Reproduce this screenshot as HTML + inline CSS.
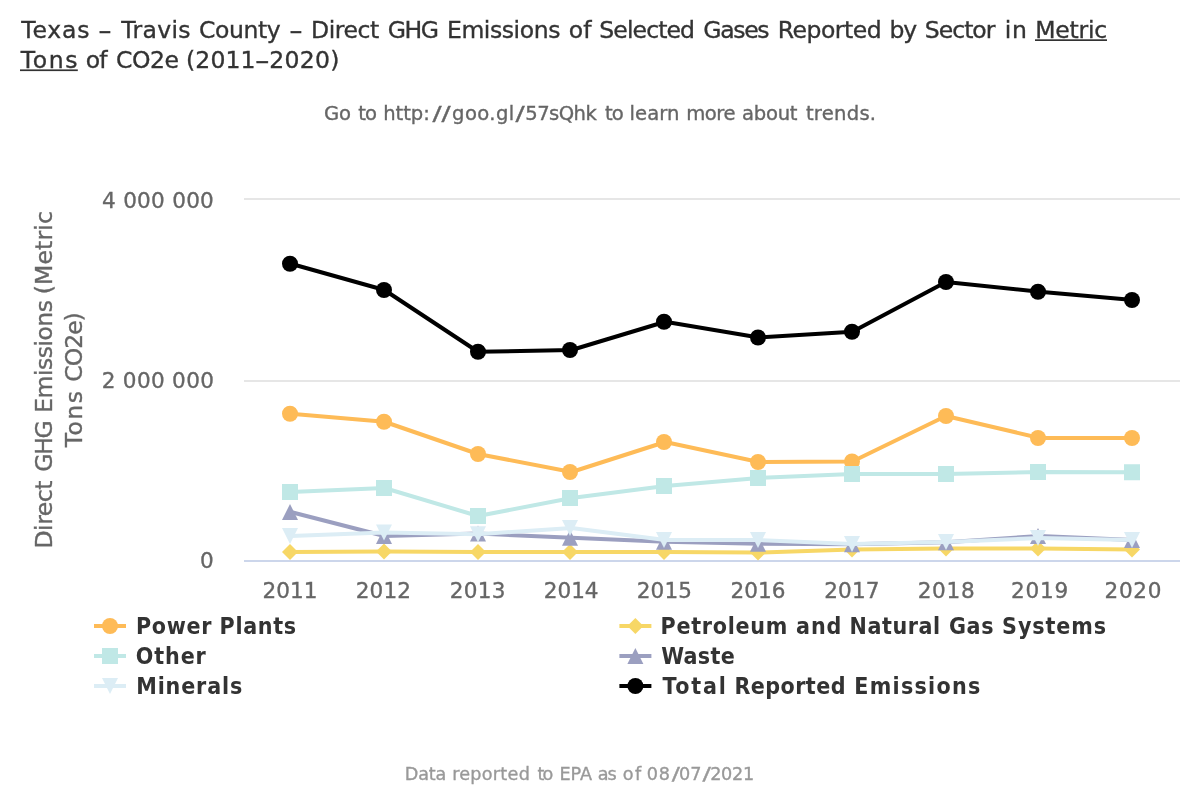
<!DOCTYPE html>
<html lang="en"><head><meta charset="utf-8"><title>Direct GHG Emissions - Travis County, Texas</title>
<style>
html,body{margin:0;padding:0;background:#ffffff;}
body{width:1200px;height:800px;overflow:hidden;}
svg{display:block;font-family:'DejaVu Sans','Liberation Sans',sans-serif;}
svg text{white-space:pre;}
</style></head><body>
<svg width="1200" height="800" viewBox="0 0 1200 800">
<rect width="1200" height="800" fill="#ffffff"/>
<g class="grid"><rect x="244" y="198" width="936" height="2" fill="#e6e6e6"/><rect x="244" y="380" width="936" height="2" fill="#e6e6e6"/></g>
<rect class="axis-line" x="244" y="560" width="936" height="2" fill="#ccd6eb"/>
<g class="series"><path d="M290.8 413.75L384.4 421.75L478 454L571.6 472L665.2 442L758.8 462L852.4 461.5L946 416L1039.6 438L1133.2 438" fill="none" stroke="#febb57" stroke-width="4" stroke-linejoin="round" stroke-linecap="round"/>
<circle cx="290" cy="413.75" r="8" fill="#febb57"/><circle cx="384" cy="421.75" r="8" fill="#febb57"/><circle cx="478" cy="454" r="8" fill="#febb57"/><circle cx="570" cy="472" r="8" fill="#febb57"/><circle cx="664" cy="442" r="8" fill="#febb57"/><circle cx="758" cy="462" r="8" fill="#febb57"/><circle cx="852" cy="461.5" r="8" fill="#febb57"/><circle cx="946" cy="416" r="8" fill="#febb57"/><circle cx="1038" cy="438" r="8" fill="#febb57"/><circle cx="1132" cy="438" r="8" fill="#febb57"/></g>
<g class="series"><path d="M290.8 552L384.4 551.6L478 552L571.6 552L665.2 552L758.8 552.5L852.4 549.5L946 548.5L1039.6 548.5L1133.2 549.6" fill="none" stroke="#f7d766" stroke-width="4" stroke-linejoin="round" stroke-linecap="round"/>
<path d="M290 544L298 552L290 560L282 552Z" fill="#f7d766"/><path d="M384 543.6L392 551.6L384 559.6L376 551.6Z" fill="#f7d766"/><path d="M478 544L486 552L478 560L470 552Z" fill="#f7d766"/><path d="M570 544L578 552L570 560L562 552Z" fill="#f7d766"/><path d="M664 544L672 552L664 560L656 552Z" fill="#f7d766"/><path d="M758 544.5L766 552.5L758 560.5L750 552.5Z" fill="#f7d766"/><path d="M852 541.5L860 549.5L852 557.5L844 549.5Z" fill="#f7d766"/><path d="M946 540.5L954 548.5L946 556.5L938 548.5Z" fill="#f7d766"/><path d="M1038 540.5L1046 548.5L1038 556.5L1030 548.5Z" fill="#f7d766"/><path d="M1132 541.6L1140 549.6L1132 557.6L1124 549.6Z" fill="#f7d766"/></g>
<g class="series"><path d="M290.8 492L384.4 488L478 516L571.6 498L665.2 486L758.8 478L852.4 474L946 474L1039.6 472L1133.2 472.25" fill="none" stroke="#c0e8e6" stroke-width="4" stroke-linejoin="round" stroke-linecap="round"/>
<rect x="282" y="484" width="16" height="16" fill="#c0e8e6"/><rect x="376" y="480" width="16" height="16" fill="#c0e8e6"/><rect x="470" y="508" width="16" height="16" fill="#c0e8e6"/><rect x="562" y="490" width="16" height="16" fill="#c0e8e6"/><rect x="656" y="478" width="16" height="16" fill="#c0e8e6"/><rect x="750" y="470" width="16" height="16" fill="#c0e8e6"/><rect x="844" y="466" width="16" height="16" fill="#c0e8e6"/><rect x="938" y="466" width="16" height="16" fill="#c0e8e6"/><rect x="1030" y="464" width="16" height="16" fill="#c0e8e6"/><rect x="1124" y="464.25" width="16" height="16" fill="#c0e8e6"/></g>
<g class="series"><path d="M290.8 512L384.4 536L478 533.6L571.6 537.7L665.2 541.7L758.8 543.7L852.4 544.3L946 542.3L1039.6 536L1133.2 540" fill="none" stroke="#9b9fc0" stroke-width="4" stroke-linejoin="round" stroke-linecap="round"/>
<path d="M290 504L298 520L282 520Z" fill="#9b9fc0"/><path d="M384 528L392 544L376 544Z" fill="#9b9fc0"/><path d="M478 525.6L486 541.6L470 541.6Z" fill="#9b9fc0"/><path d="M570 529.7L578 545.7L562 545.7Z" fill="#9b9fc0"/><path d="M664 533.7L672 549.7L656 549.7Z" fill="#9b9fc0"/><path d="M758 535.7L766 551.7L750 551.7Z" fill="#9b9fc0"/><path d="M852 536.3L860 552.3L844 552.3Z" fill="#9b9fc0"/><path d="M946 534.3L954 550.3L938 550.3Z" fill="#9b9fc0"/><path d="M1038 528L1046 544L1030 544Z" fill="#9b9fc0"/><path d="M1132 532L1140 548L1124 548Z" fill="#9b9fc0"/></g>
<g class="series"><path d="M290.8 536L384.4 532.4L478 534.25L571.6 528L665.2 540L758.8 540L852.4 544L946 542L1039.6 538L1133.2 540" fill="none" stroke="#dcedf5" stroke-width="4" stroke-linejoin="round" stroke-linecap="round"/>
<path d="M282 528L298 528L290 544Z" fill="#dcedf5"/><path d="M376 524.4L392 524.4L384 540.4Z" fill="#dcedf5"/><path d="M470 526.25L486 526.25L478 542.25Z" fill="#dcedf5"/><path d="M562 520L578 520L570 536Z" fill="#dcedf5"/><path d="M656 532L672 532L664 548Z" fill="#dcedf5"/><path d="M750 532L766 532L758 548Z" fill="#dcedf5"/><path d="M844 536L860 536L852 552Z" fill="#dcedf5"/><path d="M938 534L954 534L946 550Z" fill="#dcedf5"/><path d="M1030 530L1046 530L1038 546Z" fill="#dcedf5"/><path d="M1124 532L1140 532L1132 548Z" fill="#dcedf5"/></g>
<g class="series"><path d="M290.8 263.75L384.4 290L478 351.75L571.6 350L665.2 321.75L758.8 337.5L852.4 331.75L946 282L1039.6 291.75L1133.2 300" fill="none" stroke="#000000" stroke-width="4" stroke-linejoin="round" stroke-linecap="round"/>
<circle cx="290" cy="263.75" r="8" fill="#000000"/><circle cx="384" cy="290" r="8" fill="#000000"/><circle cx="478" cy="351.75" r="8" fill="#000000"/><circle cx="570" cy="350" r="8" fill="#000000"/><circle cx="664" cy="321.75" r="8" fill="#000000"/><circle cx="758" cy="337.5" r="8" fill="#000000"/><circle cx="852" cy="331.75" r="8" fill="#000000"/><circle cx="946" cy="282" r="8" fill="#000000"/><circle cx="1038" cy="291.75" r="8" fill="#000000"/><circle cx="1132" cy="300" r="8" fill="#000000"/></g>
<g class="legend-symbols">
<rect x="94" y="624" width="32" height="4" fill="#febb57"/><circle cx="110" cy="626" r="8" fill="#febb57"/>
<rect x="619.4" y="624" width="32" height="4" fill="#f7d766"/><path d="M635.4 618L643.4 626L635.4 634L627.4 626Z" fill="#f7d766"/>
<rect x="94" y="654" width="32" height="4" fill="#c0e8e6"/><rect x="102" y="648" width="16" height="16" fill="#c0e8e6"/>
<rect x="619.4" y="654" width="32" height="4" fill="#9b9fc0"/><path d="M635.4 648L643.4 664L627.4 664Z" fill="#9b9fc0"/>
<rect x="94" y="684" width="32" height="4" fill="#dcedf5"/><path d="M102 678L118 678L110 694Z" fill="#dcedf5"/>
<rect x="619.4" y="684" width="32" height="4" fill="#000000"/><circle cx="635.4" cy="686" r="8" fill="#000000"/>
</g>
<rect x="1035" y="39.3" width="72" height="1.7" fill="#333333"/><rect x="20" y="69.4" width="57.8" height="1.7" fill="#333333"/>
<text y="38" font-size="23.52" fill="#333333" stroke="#333333" stroke-width="0.35"><tspan x="21.24" letter-spacing="0.796">Texas</tspan> <tspan x="98.06" textLength="13.93" lengthAdjust="spacingAndGlyphs">-</tspan> <tspan x="121.31" letter-spacing="0.315">Travis</tspan> <tspan x="199.00" letter-spacing="-0.400">County</tspan> <tspan x="289.06" textLength="13.93" lengthAdjust="spacingAndGlyphs">-</tspan> <tspan x="311.05" letter-spacing="-0.460">Direct</tspan> <tspan x="387.65" letter-spacing="-1.447">GHG</tspan> <tspan x="446.96" letter-spacing="-0.430">Emissions</tspan> <tspan x="568.79" letter-spacing="0.118">of</tspan> <tspan x="599.29" letter-spacing="-0.886">Selected</tspan> <tspan x="703.21" letter-spacing="-1.295">Gases</tspan> <tspan x="777.80" letter-spacing="-0.506">Reported</tspan> <tspan x="889.50" letter-spacing="-1.059">by</tspan> <tspan x="924.79" letter-spacing="-0.991">Sector</tspan> <tspan x="1004.82" letter-spacing="0.643">in</tspan> <tspan x="1035.17" letter-spacing="-0.213">Metric</tspan></text>
<text y="68" font-size="23.52" fill="#333333" stroke="#333333" stroke-width="0.35"><tspan x="20.86" letter-spacing="1.594">Tons</tspan> <tspan x="85.82" letter-spacing="-0.852">of</tspan> <tspan x="116.00" letter-spacing="-0.427">CO2e</tspan> <tspan x="186.00" letter-spacing="0.140">(2011</tspan><tspan x="254.82" textLength="15.13" lengthAdjust="spacingAndGlyphs">-</tspan><tspan x="269.13" letter-spacing="0.292">2020)</tspan></text>
<text y="120" font-size="19.6" fill="#666666" stroke="#666666" stroke-width="0.35"><tspan x="324.00" letter-spacing="-0.133">Go</tspan> <tspan x="358.23" letter-spacing="-0.888">to</tspan> <tspan x="383.20" letter-spacing="-0.055">http:</tspan><tspan x="432.50" textLength="18.25" lengthAdjust="spacingAndGlyphs">//</tspan><tspan x="452.07" letter-spacing="0.408">goo.gl</tspan><tspan x="515.50" textLength="9.20" lengthAdjust="spacingAndGlyphs">/</tspan><tspan x="525.32" letter-spacing="-0.570">57sQhk</tspan> <tspan x="604.98" letter-spacing="-0.888">to</tspan> <tspan x="629.58" letter-spacing="0.075">learn</tspan> <tspan x="686.24" letter-spacing="-0.469">more</tspan> <tspan x="742.00" letter-spacing="-0.250">about</tspan> <tspan x="805.93" letter-spacing="0.251">trends.</tspan></text>
<text y="208" font-size="21.56" fill="#666666" stroke="#666666" stroke-width="0.35"><tspan x="102.08" letter-spacing="0.258">4 000 000</tspan></text>
<text y="388" font-size="21.56" fill="#666666" stroke="#666666" stroke-width="0.35"><tspan x="101.66" letter-spacing="0.320">2 000 000</tspan></text>
<text y="568" font-size="21.56" fill="#666666" stroke="#666666" stroke-width="0.35"><tspan x="199.93" letter-spacing="0.000">0</tspan></text>
<text y="598" font-size="21.56" fill="#666666" stroke="#666666" stroke-width="0.35"><tspan x="262.58" letter-spacing="0.013">2011</tspan></text>
<text y="598" font-size="21.56" fill="#666666" stroke="#666666" stroke-width="0.35"><tspan x="355.83" letter-spacing="0.070">2012</tspan></text>
<text y="598" font-size="21.56" fill="#666666" stroke="#666666" stroke-width="0.35"><tspan x="449.71" letter-spacing="0.305">2013</tspan></text>
<text y="598" font-size="21.56" fill="#666666" stroke="#666666" stroke-width="0.35"><tspan x="543.71" letter-spacing="0.004">2014</tspan></text>
<text y="598" font-size="21.56" fill="#666666" stroke="#666666" stroke-width="0.35"><tspan x="636.70" letter-spacing="0.146">2015</tspan></text>
<text y="598" font-size="21.56" fill="#666666" stroke="#666666" stroke-width="0.35"><tspan x="730.46" letter-spacing="0.084">2016</tspan></text>
<text y="598" font-size="21.56" fill="#666666" stroke="#666666" stroke-width="0.35"><tspan x="824.16" letter-spacing="0.176">2017</tspan></text>
<text y="598" font-size="21.56" fill="#666666" stroke="#666666" stroke-width="0.35"><tspan x="917.65" letter-spacing="0.735">2018</tspan></text>
<text y="598" font-size="21.56" fill="#666666" stroke="#666666" stroke-width="0.35"><tspan x="1011.11" letter-spacing="0.728">2019</tspan></text>
<text y="598" font-size="21.56" fill="#666666" stroke="#666666" stroke-width="0.35"><tspan x="1104.58" letter-spacing="0.644">2020</tspan></text>
<text y="633.8" font-size="23" fill="#333333" font-weight="bold" font-family="'DejaVu Sans Condensed','DejaVu Sans','Liberation Sans',sans-serif" font-stretch="condensed"><tspan x="136.01" letter-spacing="0.656">Power</tspan> <tspan x="219.56" letter-spacing="0.680">Plants</tspan></text>
<text y="633.8" font-size="23" fill="#333333" font-weight="bold" font-family="'DejaVu Sans Condensed','DejaVu Sans','Liberation Sans',sans-serif" font-stretch="condensed"><tspan x="660.59" letter-spacing="0.725">Petroleum</tspan> <tspan x="796.02" letter-spacing="0.947">and</tspan> <tspan x="849.55" letter-spacing="0.577">Natural</tspan> <tspan x="949.00" letter-spacing="0.628">Gas</tspan> <tspan x="1002.08" letter-spacing="0.909">Systems</tspan></text>
<text y="663.8" font-size="23" fill="#333333" font-weight="bold" font-family="'DejaVu Sans Condensed','DejaVu Sans','Liberation Sans',sans-serif" font-stretch="condensed"><tspan x="135.75" letter-spacing="0.903">Other</tspan></text>
<text y="663.8" font-size="23" fill="#333333" font-weight="bold" font-family="'DejaVu Sans Condensed','DejaVu Sans','Liberation Sans',sans-serif" font-stretch="condensed"><tspan x="661.26" letter-spacing="0.299">Waste</tspan></text>
<text y="693.8" font-size="23" fill="#333333" font-weight="bold" font-family="'DejaVu Sans Condensed','DejaVu Sans','Liberation Sans',sans-serif" font-stretch="condensed"><tspan x="136.17" letter-spacing="0.874">Minerals</tspan></text>
<text y="693.8" font-size="23" fill="#333333" font-weight="bold" font-family="'DejaVu Sans Condensed','DejaVu Sans','Liberation Sans',sans-serif" font-stretch="condensed"><tspan x="662.50" letter-spacing="1.750">Total</tspan> <tspan x="734.39" letter-spacing="0.456">Reported</tspan> <tspan x="854.30" letter-spacing="1.269">Emissions</tspan></text>
<text y="780" font-size="17.64" fill="#999999" stroke="#999999" stroke-width="0.35"><tspan x="404.83" letter-spacing="-0.227">Data</tspan> <tspan x="452.15" letter-spacing="0.261">reported</tspan> <tspan x="537.50" letter-spacing="-2.000">to</tspan> <tspan x="559.62" letter-spacing="-0.141">EPA</tspan> <tspan x="597.74" letter-spacing="-0.998">as</tspan> <tspan x="622.73" letter-spacing="1.600">of</tspan> <tspan x="646.75" letter-spacing="0.816">08</tspan><tspan x="671.75" textLength="8.17" lengthAdjust="spacingAndGlyphs">/</tspan><tspan x="679.00" letter-spacing="0.000">07</tspan><tspan x="702.50" textLength="8.42" lengthAdjust="spacingAndGlyphs">/</tspan><tspan x="710.23" letter-spacing="-0.314">2021</tspan></text>
<text transform="translate(51.8,0) rotate(-90)" font-size="23.52" fill="#666666" stroke="#666666" stroke-width="0.35"><tspan x="-548.55" y="0" letter-spacing="-0.460">Direct</tspan> <tspan x="-471.80" y="0" letter-spacing="-1.271">GHG</tspan> <tspan x="-412.75" y="0" letter-spacing="-0.522">Emissions</tspan> <tspan x="-294.30" y="0" letter-spacing="0.146">(Metric</tspan></text>
<text transform="translate(81.8,0) rotate(-90)" font-size="23.52" fill="#666666" stroke="#666666" stroke-width="0.35"><tspan x="-447.24" y="0" letter-spacing="1.424">Tons</tspan> <tspan x="-381.80" y="0" letter-spacing="-0.986">CO2e)</tspan></text>
</svg>
</body></html>
